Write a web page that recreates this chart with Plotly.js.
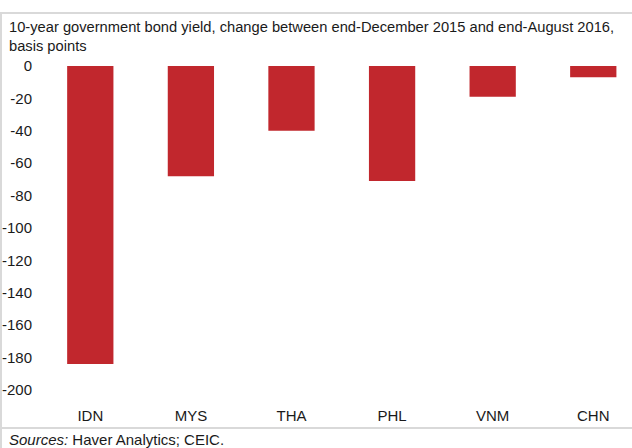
<!DOCTYPE html>
<html>
<head>
<meta charset="utf-8">
<script src="https://cdn.plot.ly/plotly-3.0.1.min.js"></script>
<style>
  html, body { margin: 0; padding: 0; background: #fff; }
  #chart { width: 632px; height: 448px; }
</style>
</head>
<body>
<div id="chart"></div>
<script>
const categories = ["IDN", "MYS", "THA", "PHL", "VNM", "CHN"];
const changeBp = [-184, -68, -40, -71, -19, -7];
const yTickVals = [0, -20, -40, -60, -80, -100, -120, -140, -160, -180, -200];
const subtitleText = "10-year government bond yield, change between end-December 2015 and end-August 2016,<br>basis points";
const sourceText = "<i>Sources:</i> Haver Analytics; CEIC.";

const FONT = "Liberation Sans Narrow, Arial Narrow, sans-serif";
const RED = "#c1272d";
const FRAME = "#d9d9d9";

const trace = {
  type: "bar",
  x: categories,
  y: changeBp,
  marker: { color: RED, line: { width: 0 } },
  hoverinfo: "skip"
};

const layout = {
  width: 632,
  height: 448,
  margin: { l: 40, r: 0, t: 66, b: 58, pad: 0 },
  paper_bgcolor: "#ffffff",
  plot_bgcolor: "#ffffff",
  showlegend: false,
  bargap: 0.54,
  font: { family: FONT, size: 15, color: "#1a1a1a" },
  xaxis: {
    type: "category",
    range: [-0.5, 5.385],
    showgrid: false,
    zeroline: false,
    showline: false,
    ticks: "outside",
    ticklen: 12,
    tickcolor: "rgba(0,0,0,0)",
    tickfont: { family: FONT, size: 15, color: "#1a1a1a" },
    fixedrange: true
  },
  yaxis: {
    range: [-200, 0],
    tickvals: yTickVals,
    ticktext: yTickVals.map(String),
    showgrid: false,
    zeroline: false,
    showline: false,
    ticks: "outside",
    ticklen: 4,
    tickcolor: "rgba(0,0,0,0)",
    tickfont: { family: FONT, size: 15, color: "#1a1a1a" },
    fixedrange: true
  },
  shapes: [
    { type: "line", xref: "paper", yref: "paper", x0: -40/592, x1: 1, y0: (448-13-58)/324, y1: (448-13-58)/324,
      line: { color: FRAME, width: 2 } },
    { type: "line", xref: "paper", yref: "paper", x0: -39/592, x1: -39/592, y0: -58/324, y1: (448-13-58)/324,
      line: { color: FRAME, width: 2 } },
    { type: "line", xref: "paper", yref: "paper", x0: -40/592, x1: 1, y0: (448-428-58)/324, y1: (448-428-58)/324,
      line: { color: FRAME, width: 2 } }
  ],
  annotations: [
    { xref: "paper", yref: "paper", x: -33/592, y: (448-17-58)/324, xanchor: "left", yanchor: "top",
      text: subtitleText, showarrow: false, align: "left",
      font: { family: FONT, size: 14.7, color: "#1a1a1a" } },
    { xref: "paper", yref: "paper", x: -33/592, y: (448-429-58)/324, xanchor: "left", yanchor: "top",
      text: sourceText, showarrow: false, align: "left",
      font: { family: FONT, size: 15, color: "#1a1a1a" } }
  ]
};

Plotly.newPlot("chart", [trace], layout, { displayModeBar: false, staticPlot: true });
</script>
</body>
</html>
